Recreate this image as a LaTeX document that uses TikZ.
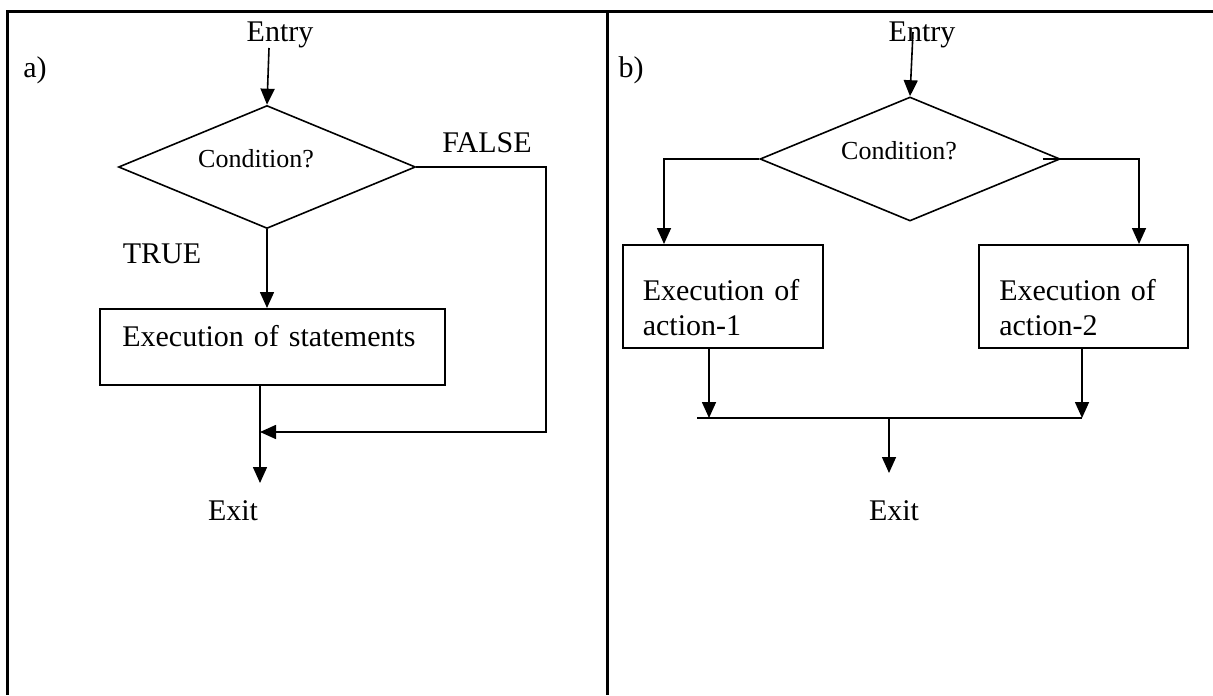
\documentclass[tikz,border=0pt]{standalone}
\usepackage{fontspec}
\setmainfont{Liberation Serif}
\usetikzlibrary{arrows.meta, shapes.geometric, positioning}

\tikzset{
    txt/.style={inner sep=0pt, anchor=base, font=\fontsize{15}{17.5}\selectfont},
    cond/.style={font=\fontsize{13}{15}\selectfont, inner sep=0pt, xshift=-5.5pt, yshift=4pt},
    decision/.style={diamond, draw, inner sep=0pt},
    process/.style={rectangle, draw, anchor=north west, align=left, inner xsep=10pt,
        font=\fontsize{15}{17.5}\selectfont},
    frame/.style={line width=1.5pt}
}

\begin{document}
\begin{tikzpicture}[x=0.5pt, y=-0.5pt, line width=0.8pt, >={Triangle[length=8pt,width=7pt]}]
    \useasboundingbox (0,0) rectangle (1213,695);
    \draw[frame] (1213,12) -- (7,12) -- (7,695);
    \draw[frame] (607,12) -- (607,695);

    % a)
    \node[txt] (labA) at (35,78) {a)};
    \node[txt] (entryA) at (280,42) {Entry};
    \node[decision, minimum width=148.5pt, minimum height=61.5pt,
        label={[cond]center:Condition?}] (diamA) at (267,167) {};
    \node[txt] (trueA) at (162,263) {TRUE};
    \node[txt] (falseA) at (487,153) {FALSE};
    \node[process, minimum width=172.5pt, minimum height=38pt, text width=150pt,
        text depth=11pt] (boxA) at (99,308) {Execution of statements};
    \node[txt] (exitA) at (233,520) {Exit};
    \coordinate (inA) at (269,48);
    \coordinate (cornA) at (546,167);
    \coordinate (joinA) at (260,432);
    \coordinate (outA) at (260,483);

    \draw[->] (inA) -- (diamA.north);
    \draw[->] (diamA.south) -- (diamA.south |- boxA.north);
    \draw[->] (diamA.east) -- (cornA) |- (joinA);
    \draw[->] (boxA.south -| joinA) -- (outA);

    % b)
    \node[txt] (labB) at (631,78) {b)};
    \node[txt] (entryB) at (922,42) {Entry};
    \node[decision, minimum width=150pt, minimum height=62pt,
        label={[cond]center:Condition?}] (diamB) at (910,159) {};
    \node[process, minimum width=100pt, minimum height=51.5pt, text width=80pt,
        text depth=6pt] (boxB1) at (622,244) {Execution of\\action-1};
    \node[process, minimum width=104.5pt, minimum height=51.5pt, text width=84pt,
        text depth=6pt] (boxB2) at (978,244) {Execution of\\action-2};
    \node[txt] (exitB) at (894,520) {Exit};
    \coordinate (inB) at (913,32);
    \coordinate (joinB1) at (709,418);
    \coordinate (joinB2) at (1082,418);
    \coordinate (startB) at (697,418);
    \coordinate (midB) at (889,418);
    \coordinate (outB) at (889,473);

    \draw[->] (inB) -- (diamB.north);
    \draw[->] (diamB.west) -| (664,0 |- boxB1.north);
    \draw[->] ([xshift=-9pt]diamB.east) -| (1139,0 |- boxB2.north);
    \draw[->] (boxB1.south -| joinB1) -- (joinB1);
    \draw[->] (boxB2.south -| joinB2) -- (joinB2);
    \draw (startB) -- (joinB2);
    \draw[->] (midB) -- (outB);
\end{tikzpicture}
\end{document}
